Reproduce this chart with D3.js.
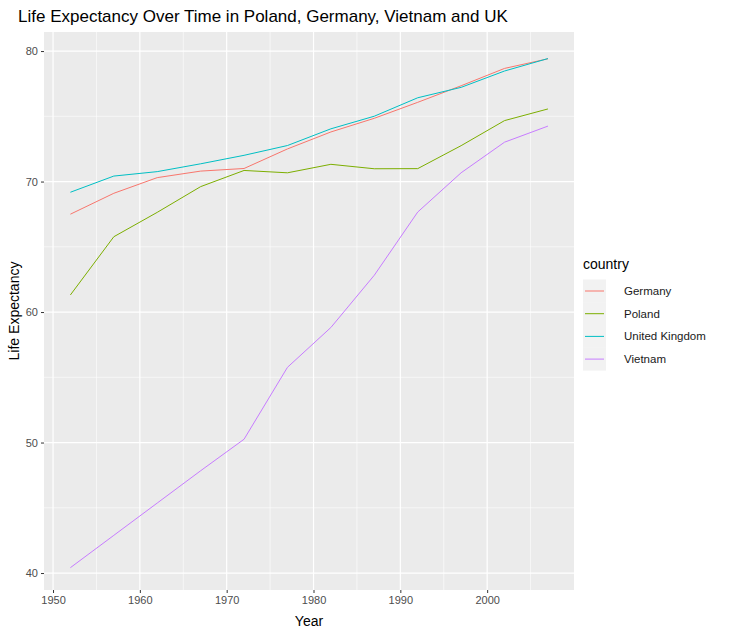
<!DOCTYPE html><html><head><meta charset="utf-8"><script src="https://cdn.jsdelivr.net/npm/d3@7"></script>
<style>body{margin:0;background:#fff}text{font-family:Arial,"Liberation Sans",sans-serif}</style></head><body><svg id="c" width="729" height="637"></svg>
<script>
const years=[1952,1957,1962,1967,1972,1977,1982,1987,1992,1997,2002,2007];
const countries=["Germany","Poland","United Kingdom","Vietnam"];
const germany=[67.5,69.1,70.3,70.8,71.0,72.5,73.8,74.847,76.07,77.34,78.67,79.406];
const poland=[61.31,65.77,67.64,69.61,70.85,70.67,71.32,70.98,70.99,72.75,74.67,75.563];
const uk=[69.18,70.42,70.76,71.36,72.01,72.76,74.04,75.007,76.42,77.218,78.471,79.425];
const vietnam=[40.412,42.887,45.363,47.838,50.254,55.764,58.816,62.82,67.662,70.672,73.017,74.249];
const colors=["#F8766D","#7CAE00","#00BFC4","#C77CFF"];
const xTicks=[1950,1960,1970,1980,1990,2000], yTicks=[40,50,60,70,80];
const series=[germany,poland,uk,vietnam];
const svg=d3.select("#c");
const L=44,R=574,T=32,B=590;
const x=d3.scaleLinear().domain([1948.96,2010.0]).range([L,R]);
const y=d3.scaleLinear().domain([38.7,81.46]).range([B,T]);
svg.append("rect").attr("x",L).attr("y",T).attr("width",R-L).attr("height",B-T).attr("fill","#EBEBEB");
const g=svg.append("g");
[1955,1965,1975,1985,1995,2005].forEach(v=>g.append("line").attr("x1",x(v)).attr("x2",x(v)).attr("y1",T).attr("y2",B).attr("stroke","#fff").attr("stroke-width",0.6));
[45,55,65,75].forEach(v=>g.append("line").attr("y1",y(v)).attr("y2",y(v)).attr("x1",L).attr("x2",R).attr("stroke","#fff").attr("stroke-width",0.6));
xTicks.forEach(v=>g.append("line").attr("x1",x(v)).attr("x2",x(v)).attr("y1",T).attr("y2",B).attr("stroke","#fff").attr("stroke-width",1.2));
yTicks.forEach(v=>g.append("line").attr("y1",y(v)).attr("y2",y(v)).attr("x1",L).attr("x2",R).attr("stroke","#fff").attr("stroke-width",1.2));
const line=d3.line().x((d,i)=>x(years[i])).y(d=>y(d));
series.forEach((s,i)=>svg.append("path").attr("d",line(s)).attr("fill","none").attr("stroke",colors[i]).attr("stroke-width",1));
const xa=svg.append("g").attr("transform",`translate(0,${B})`).call(d3.axisBottom(x).tickValues(xTicks).tickFormat(d3.format("d")).tickSize(3).tickPadding(3));
const ya=svg.append("g").attr("transform",`translate(${L},0)`).call(d3.axisLeft(y).tickValues(yTicks).tickSize(3).tickPadding(3));
[xa,ya].forEach(a=>{a.select(".domain").remove();a.selectAll("line").attr("stroke","#333");a.selectAll("text").attr("fill","#4D4D4D").style("font-size","11px");});
svg.append("text").attr("x",(L+R)/2).attr("y",626).attr("text-anchor","middle").style("font-size","14px").text("Year");
svg.append("text").attr("transform",`translate(19,${(T+B)/2}) rotate(-90)`).attr("text-anchor","middle").style("font-size","14px").text("Life Expectancy");
svg.append("text").attr("x",18).attr("y",22).style("font-size","17px").text("Life Expectancy Over Time in Poland, Germany, Vietnam and UK");
svg.append("text").attr("x",583).attr("y",269).style("font-size","14px").text("country");
countries.forEach((c,i)=>{const yy=279.5+i*22.7;
svg.append("rect").attr("x",583).attr("y",yy).attr("width",23).attr("height",23).attr("fill","#F2F2F2");
svg.append("line").attr("x1",585).attr("x2",604).attr("y1",yy+11.5).attr("y2",yy+11.5).attr("stroke",colors[i]);
svg.append("text").attr("x",624).attr("y",yy+15.5).style("font-size","11.5px").attr("fill","#1a1a1a").text(c);});
</script></body></html>
